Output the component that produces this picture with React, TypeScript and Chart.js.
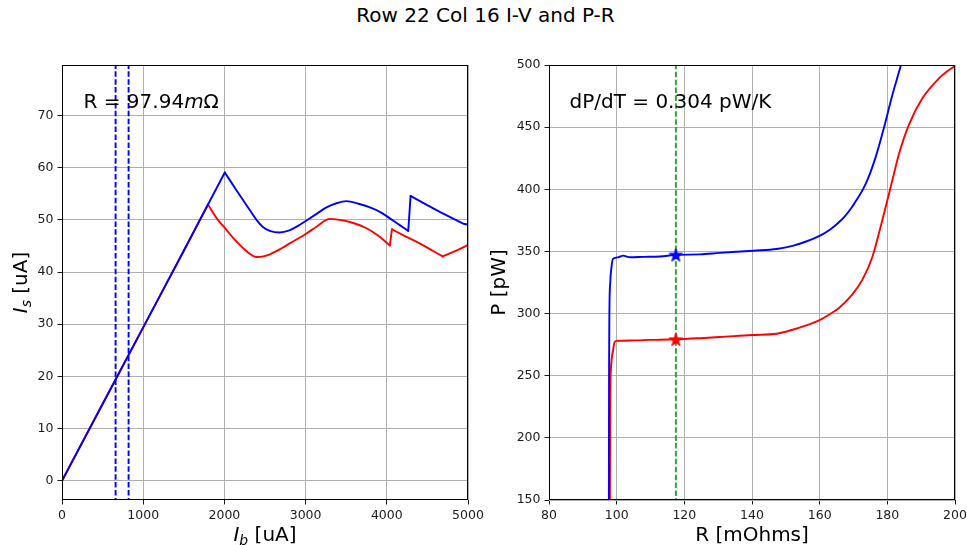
import React, { useEffect, useRef } from "react";
import { Chart, registerables } from "chart.js";

Chart.register(...registerables);

const FONT = "'DejaVu Sans', sans-serif";
const BIG = 20;
const TICK = 12.5;

// ---------- Left panel: I-V ----------
const ivBlueIb = [0, 500, 1000, 1500, 2005, 2148, 2312, 2400, 2470, 2559, 2682, 2800, 2900, 3011, 3140, 3257, 3380, 3504, 3650, 3792, 3920, 4038, 4150, 4264, 4293, 4420, 4572, 4720, 4860, 4940, 5000];
const ivBlueIs = [0, 14.7, 29.4, 44.1, 59.1, 55.7, 51.9, 49.9, 48.7, 47.9, 47.6, 48.0, 48.8, 49.9, 51.2, 52.4, 53.2, 53.6, 53.1, 52.4, 51.5, 50.3, 49.1, 47.9, 54.6, 53.5, 52.2, 51.0, 49.9, 49.3, 49.1];
const ivRedIb = [0, 500, 1000, 1500, 1798, 1901, 2025, 2127, 2230, 2312, 2394, 2480, 2560, 2641, 2720, 2805, 3011, 3134, 3298, 3420, 3545, 3750, 3900, 4038, 4063, 4200, 4368, 4530, 4688, 4840, 5000];
const ivRedIs = [0, 14.7, 29.4, 44.1, 52.95, 50.4, 48.1, 46.2, 44.6, 43.5, 42.9, 43.0, 43.4, 44.0, 44.7, 45.5, 47.4, 48.7, 50.2, 50.0, 49.6, 48.4, 46.9, 45.1, 48.2, 47.1, 45.8, 44.4, 43.0, 44.0, 45.2];
// x positions where the curves have sharp corners (peaks and jumps)
const ivBlueCorners = [2005, 4264, 4293];
const ivRedCorners = [1798, 4038, 4063, 4688];
const ivDashedIb = [660, 820];
const ivXLim = [0, 5000];
const ivYLim = [-3.7, 79.7];
const ivXTicks = [0, 1000, 2000, 3000, 4000, 5000];
const ivYTicks = [0, 10, 20, 30, 40, 50, 60, 70];
const ivAnnotation = ["R = 97.94", "m", "Ω"];

// ---------- Right panel: P-R ----------
const prBlueR = [97.7, 97.75, 97.85, 98.1, 98.5, 98.9, 100.5, 101.9, 103, 104, 108, 112.8, 117.5, 124.6, 130.5, 140.4, 147.3, 152, 156, 160.1, 163, 165.7, 167.5, 169.6, 173.6, 176.5, 179, 181.5, 183.9, 185.2];
const prBlueP = [150, 250, 300, 325, 338, 344, 345.3, 346.6, 345.8, 345.3, 345.6, 345.9, 347.2, 347.6, 348.8, 350.6, 352.0, 354.5, 358, 362.7, 367.5, 373.5, 378.5, 386, 404.3, 425.5, 449.5, 476.1, 498.7, 512];
const prRedR = [98.0, 98.1, 98.3, 98.6, 98.9, 99.4, 100, 105, 110, 117.5, 124.6, 130.5, 140, 147.3, 152, 156, 160.1, 163, 165.7, 169.6, 172.6, 175.6, 178, 180, 181.5, 183.5, 186.4, 190.4, 195.3, 197.6, 199.7, 200];
const prRedP = [150, 230, 255, 265, 270, 277, 278, 278.4, 278.8, 279.3, 280.2, 281.1, 282.8, 283.8, 287, 290.5, 295, 299.5, 304.5, 315.2, 327.1, 345.7, 369.7, 391, 407.5, 429, 452.1, 473.4, 489.4, 494.8, 498.7, 499.2];
const prMarkR = [117.5];
const prMarkBlueP = [347.2];
const prMarkRedP = [279.2];
const prXLim = [80, 200];
const prYLim = [150, 500];
const prXTicks = [80, 100, 120, 140, 160, 180, 200];
const prYTicks = [150, 200, 250, 300, 350, 400, 450, 500];
const prAnnotation = "dP/dT = 0.304 pW/K";

const title = "Row 22 Col 16 I-V and P-R";

const zip = (xs: number[], ys: number[]) => xs.map((x, i) => ({ x, y: ys[i] }));

// split a series into pieces at corner x values (pieces share endpoints)
function splitAt(xs: number[], ys: number[], corners: number[]) {
  const pts = zip(xs, ys);
  const out: { x: number; y: number }[][] = [];
  let cur: { x: number; y: number }[] = [];
  pts.forEach((p) => {
    cur.push(p);
    if (corners.includes(p.x)) {
      out.push(cur);
      cur = [p];
    }
  });
  if (cur.length > 1) out.push(cur);
  return out;
}

type Run = { t: string; font: string; dy?: number };
function drawRuns(ctx: CanvasRenderingContext2D, runs: Run[], x: number, y: number, align: "left" | "center") {
  let w = 0;
  for (const r of runs) {
    ctx.font = r.font;
    w += ctx.measureText(r.t).width;
  }
  let cx = align === "center" ? x - w / 2 : x;
  ctx.textAlign = "left";
  ctx.textBaseline = "alphabetic";
  for (const r of runs) {
    ctx.font = r.font;
    ctx.fillText(r.t, cx, y + (r.dy || 0));
    cx += ctx.measureText(r.t).width;
  }
}

const f = (size: number, italic = false) => `${italic ? "italic " : ""}${size}px ${FONT}`;

function makeStar(color: string, size: number) {
  const c = document.createElement("canvas");
  c.width = size;
  c.height = size;
  const ctx = c.getContext("2d")!;
  const R = size / 2 - 0.5;
  const r = R * 0.381966;
  const cx = size / 2;
  const cy = size / 2 + 0.6;
  ctx.beginPath();
  for (let i = 0; i < 10; i++) {
    const rad = i % 2 === 0 ? R : r;
    const a = -Math.PI / 2 + (i * Math.PI) / 5;
    const px = cx + rad * Math.cos(a);
    const py = cy + rad * Math.sin(a);
    if (i === 0) ctx.moveTo(px, py);
    else ctx.lineTo(px, py);
  }
  ctx.closePath();
  ctx.fillStyle = color;
  ctx.fill();
  ctx.strokeStyle = color;
  ctx.lineWidth = 1;
  ctx.stroke();
  return c;
}

const boxPlugin = {
  id: "box",
  afterDraw(chart: any) {
    const { ctx, chartArea: a } = chart;
    ctx.save();
    ctx.strokeStyle = "#000";
    ctx.lineWidth = 1;
    const l = Math.round(a.left) + 0.5;
    const t = Math.round(a.top) + 0.5;
    const r = Math.round(a.right) - 0.5;
    const b = Math.round(a.bottom) - 0.5;
    ctx.strokeRect(l, t, r - l, b - t);
    ctx.restore();
  },
};

function scaleOpts(lim: number[], ticks: number[], isX: boolean, fixed: number) {
  return {
    type: "linear",
    position: isX ? "bottom" : "left",
    min: lim[0],
    max: lim[1],
    afterBuildTicks: (s: any) => {
      s.ticks = ticks.map((v) => ({ value: v }));
    },
    afterFit: (s: any) => {
      if (isX) s.height = fixed;
      else s.width = fixed;
    },
    ticks: {
      autoSkip: false,
      maxRotation: 0,
      minRotation: 0,
      padding: 4,
      color: "#1a1a1a",
      font: { family: FONT, size: TICK },
      callback: (v: any) => String(v),
    },
    grid: {
      color: "#b0b0b0",
      lineWidth: 1,
      drawTicks: true,
      tickLength: 4.5,
      tickColor: "#1a1a1a",
      tickWidth: 1,
    },
    border: { display: false },
  };
}

export default function App() {
  const leftRef = useRef<HTMLCanvasElement>(null);
  const rightRef = useRef<HTMLCanvasElement>(null);

  useEffect(() => {
    const lw = 1.9;
    const textLeft = {
      id: "textLeft",
      afterDraw(chart: any) {
        const { ctx, chartArea: a } = chart;
        ctx.save();
        ctx.fillStyle = "#000";
        drawRuns(
          ctx,
          [
            { t: ivAnnotation[0], font: f(BIG) },
            { t: ivAnnotation[1], font: f(BIG, true) },
            { t: ivAnnotation[2], font: f(BIG) },
          ],
          a.left + 21.5,
          108.3,
          "left"
        );
        drawRuns(
          ctx,
          [
            { t: "I", font: f(BIG, true) },
            { t: "b", font: f(BIG * 0.7, true), dy: 3.5 },
            { t: " [uA]", font: f(BIG) },
          ],
          (a.left + a.right) / 2,
          541,
          "center"
        );
        ctx.translate(27, (a.top + a.bottom) / 2);
        ctx.rotate(-Math.PI / 2);
        drawRuns(
          ctx,
          [
            { t: "I", font: f(BIG, true) },
            { t: "s", font: f(BIG * 0.7, true), dy: 3.5 },
            { t: " [uA]", font: f(BIG) },
          ],
          0,
          0,
          "center"
        );
        ctx.restore();
      },
    };

    const textRight = {
      id: "textRight",
      afterDraw(chart: any) {
        const { ctx, chartArea: a } = chart;
        ctx.save();
        ctx.fillStyle = "#000";
        drawRuns(ctx, [{ t: prAnnotation, font: f(BIG) }], a.left + 20.5, 108.3, "left");
        drawRuns(ctx, [{ t: "R [mOhms]", font: f(BIG) }], (a.left + a.right) / 2, 541, "center");
        ctx.translate(21, (a.top + a.bottom) / 2);
        ctx.rotate(-Math.PI / 2);
        drawRuns(ctx, [{ t: "P [pW]", font: f(BIG) }], 0, 0, "center");
        ctx.restore();
      },
    };

    const lineDs = (data: any[], color: string, extra: any = {}) => ({
      data,
      showLine: true,
      borderColor: color,
      backgroundColor: color,
      borderWidth: lw,
      pointRadius: 0,
      pointHoverRadius: 0,
      tension: 0,
      fill: false,
      borderJoinStyle: "round",
      borderCapStyle: "round",
      ...extra,
    });
    const smooth = { cubicInterpolationMode: "monotone" };

    const left = new Chart(leftRef.current!, {
      type: "scatter",
      data: {
        datasets: [
          ...ivDashedIb.map((x) =>
            lineDs(zip([x, x], [ivYLim[1] + 20, ivYLim[0] - 20]), "#0000ff", { borderDash: [5.5, 2.4], borderCapStyle: "butt" })
          ),
          ...splitAt(ivBlueIb, ivBlueIs, ivBlueCorners).map((seg) => lineDs(seg, "#0000ff", smooth)),
          ...splitAt(ivRedIb, ivRedIs, ivRedCorners).map((seg) => lineDs(seg, "#ff0000", smooth)),
        ],
      } as any,
      options: {
        animation: false,
        responsive: false,
        maintainAspectRatio: false,
        events: [],
        layout: { padding: { top: 65, right: 32, left: 0, bottom: 0 } },
        plugins: { legend: { display: false }, tooltip: { enabled: false }, title: { display: false } },
        scales: {
          x: scaleOpts(ivXLim, ivXTicks, true, 45),
          y: scaleOpts(ivYLim, ivYTicks, false, 62),
        } as any,
      },
      plugins: [boxPlugin, textLeft],
    });

    const blueStar = makeStar("#0000ff", 15);
    const redStar = makeStar("#ff0000", 15);

    const right = new Chart(rightRef.current!, {
      type: "scatter",
      data: {
        datasets: [
          { data: zip(prMarkR, prMarkBlueP), pointStyle: blueStar, pointRadius: 7, showLine: false },
          { data: zip(prMarkR, prMarkRedP), pointStyle: redStar, pointRadius: 7, showLine: false },
          ...prMarkR.map((x) =>
            lineDs(zip([x, x], [prYLim[1] + 20, prYLim[0] - 20]), "#2ca02c", { borderDash: [5.5, 2.4], borderCapStyle: "butt" })
          ),
          lineDs(zip(prBlueR, prBlueP), "#0000ff", smooth),
          lineDs(zip(prRedR, prRedP), "#ff0000", smooth),
        ],
      } as any,
      options: {
        animation: false,
        responsive: false,
        maintainAspectRatio: false,
        events: [],
        layout: { padding: { top: 65, right: 29, left: 0, bottom: 0 } },
        plugins: { legend: { display: false }, tooltip: { enabled: false }, title: { display: false } },
        scales: {
          x: scaleOpts(prXLim, prXTicks, true, 45),
          y: scaleOpts(prYLim, prYTicks, false, 65),
        } as any,
      },
      plugins: [boxPlugin, textRight],
    });

    return () => {
      left.destroy();
      right.destroy();
    };
  }, []);

  return (
    <div style={{ position: "absolute", left: 0, top: 0, width: 967, height: 545, background: "#fff", overflow: "hidden" }}>
      <div
        style={{
          position: "absolute",
          left: 0,
          top: 5,
          width: 967,
          textAlign: "center",
          fontFamily: FONT,
          fontSize: BIG,
          lineHeight: `${BIG}px`,
          color: "#000",
          paddingLeft: 2,
        }}
      >
        {title}
      </div>
      <canvas ref={leftRef} width={500} height={545} style={{ position: "absolute", left: 0, top: 0 }} />
      <canvas ref={rightRef} width={500} height={545} style={{ position: "absolute", left: 484, top: 0 }} />
    </div>
  );
}
